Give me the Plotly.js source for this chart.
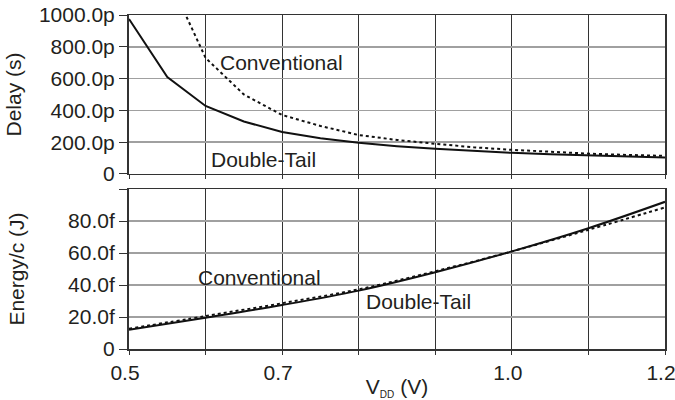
<!DOCTYPE html>
<html>
<head>
<meta charset="utf-8">
<script src="https://cdn.plot.ly/plotly-3.0.1.min.js"></script>
<style>html,body{margin:0;padding:0;background:#fff;}#chart{width:675px;height:400px;}</style>
</head>
<body>
<div id="chart"></div>
<script>
// Delay data (seconds, in ps)
const vddDelay = [0.5, 0.55, 0.6, 0.65, 0.7, 0.75, 0.8, 0.85, 0.9, 0.95, 1.0, 1.05, 1.1, 1.15, 1.2];
const delayDoubleTail = [975, 610, 428, 330, 264, 225, 197, 175, 158, 144, 133, 124, 116, 109, 103];
const delayConventional = [1900, 1250, 730, 500, 371, 302, 245, 214, 190, 168, 152, 139, 128, 120, 114];

// Energy data (fJ)
const vddEnergy = [0.5, 0.6, 0.7, 0.8, 0.9, 1.0, 1.1, 1.2];
const energyDoubleTail = [12, 19.6, 27.5, 36.5, 48, 61, 75.5, 92];
const energyConventional = [12.6, 20.6, 28.6, 37.3, 48.6, 61, 74.5, 88.5];

// Tick labels
const xTickVals = [0.5, 0.7, 1.0, 1.2];
const xTickText = ["0.5", "0.7", "1.0", "1.2"];
const delayTickVals = [0, 200, 400, 600, 800, 1000];
const delayTickText = ["0", "200.0p", "400.0p", "600.0p", "800.0p", "1000.0p"];
const energyTickVals = [0, 20, 40, 60, 80];
const energyTickText = ["0", "20.0f", "40.0f", "60.0f", "80.0f"];

const txt = '#231f20';
const fontFam = '"Liberation Sans", Arial, sans-serif';
const fs = 21;

const traces = [
  {x: vddDelay, y: delayDoubleTail, xaxis: 'x2', yaxis: 'y2', mode: 'lines',
   line: {color: '#111', width: 2}, name: 'Double-Tail'},
  {x: vddDelay, y: delayConventional, xaxis: 'x2', yaxis: 'y2', mode: 'lines',
   line: {color: '#111', width: 2, dash: '3px,3px'}, name: 'Conventional'},
  {x: vddEnergy, y: energyDoubleTail, xaxis: 'x', yaxis: 'y', mode: 'lines',
   line: {color: '#111', width: 2, shape: 'spline'}, name: 'Double-Tail'},
  {x: vddEnergy, y: energyConventional, xaxis: 'x', yaxis: 'y', mode: 'lines',
   line: {color: '#111', width: 2, dash: '3px,3px', shape: 'spline'}, name: 'Conventional'}
];

const xCommon = {
  range: [0.5, 1.2], tickmode: 'array', tickvals: xTickVals, ticktext: xTickText,
  showgrid: true, gridcolor: '#333', gridwidth: 1,
  showline: true, linecolor: '#333', linewidth: 1.5, mirror: true,
  ticks: 'outside', ticklen: 4, tickwidth: 1, tickcolor: '#333',
  minor: {tick0: 0.5, dtick: 0.1, ticks: 'outside', ticklen: 4, tickwidth: 1, tickcolor: '#333',
          showgrid: true, gridcolor: '#333', gridwidth: 1},
  ticklabelshift: -4,
  ticklabeloverflow: 'allow',
  zeroline: false, fixedrange: true
};
const yCommon = {
  showgrid: true, gridcolor: '#a0a0a0', gridwidth: 1.5,
  showline: true, linecolor: '#333', linewidth: 2, mirror: true,
  ticks: 'outside', ticklen: 8, tickwidth: 1, tickcolor: '#333',
  zeroline: false, fixedrange: true
};

const layout = {
  width: 675, height: 400,
  margin: {l: 129, r: 10, t: 15, b: 51},
  paper_bgcolor: '#fff', plot_bgcolor: '#fff',
  showlegend: false,
  font: {family: fontFam, size: fs, color: txt},
  xaxis: Object.assign({}, xCommon, {anchor: 'y',
    title: {text: 'V<sub><span style="font-size:10px">DD</span></sub> (V)', font: {size: fs, color: txt}, standoff: 2}}),
  xaxis2: Object.assign({}, xCommon, {anchor: 'y2', matches: 'x', showticklabels: false}),
  yaxis: Object.assign({}, yCommon, {domain: [0, 0.479], range: [0, 100],
    tickmode: 'array', tickvals: energyTickVals, ticktext: energyTickText,
    minor: {tick0: 0, dtick: 20, ticks: 'outside', ticklen: 8, tickwidth: 1, tickcolor: '#333', showgrid: false},
    title: {text: 'Energy/c (J)', font: {size: fs, color: txt}, standoff: 38}}),
  yaxis2: Object.assign({}, yCommon, {domain: [0.524, 1], range: [0, 1000],
    tickmode: 'array', tickvals: delayTickVals, ticktext: delayTickText,
    title: {text: 'Delay (s)', font: {size: fs, color: txt}, standoff: 12}}),
  annotations: [
    {x: 0.699, y: 704, xref: 'x2', yref: 'y2', text: 'Conventional', showarrow: false, font: {size: fs, color: txt}},
    {x: 0.676, y: 88, xref: 'x2', yref: 'y2', text: 'Double-Tail', showarrow: false, font: {size: fs, color: txt}},
    {x: 0.670, y: 44.4, xref: 'x', yref: 'y', text: 'Conventional', showarrow: false, font: {size: fs, color: txt}},
    {x: 0.878, y: 29.4, xref: 'x', yref: 'y', text: 'Double-Tail', showarrow: false, font: {size: fs, color: txt}}
  ]
};

Plotly.newPlot('chart', traces, layout, {staticPlot: true, displayModeBar: false});
</script>
</body>
</html>
